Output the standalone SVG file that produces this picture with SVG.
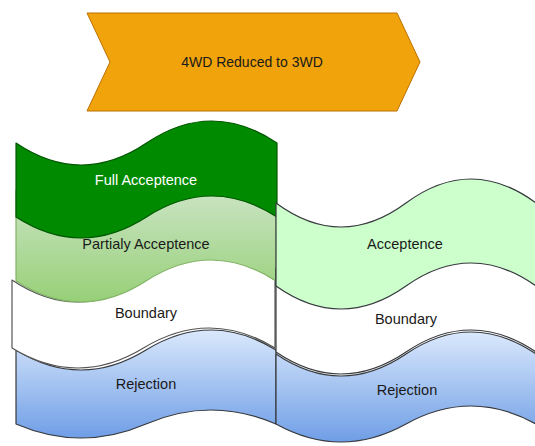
<svg xmlns="http://www.w3.org/2000/svg" width="535" height="446" viewBox="0 0 535 446">
  <defs>
    <linearGradient id="gradPartial" x1="0" y1="0" x2="0" y2="1">
      <stop offset="0" stop-color="#d5e8d4"/>
      <stop offset="1" stop-color="#97d077"/>
    </linearGradient>
    <linearGradient id="gradReject" x1="0" y1="0" x2="0" y2="1">
      <stop offset="0" stop-color="#dae8fc"/>
      <stop offset="1" stop-color="#6f9ee6"/>
    </linearGradient>
  </defs>
  <style>
    .lbl { font-family: "Liberation Sans", Arial, sans-serif; font-size: 14.5px; text-anchor: middle; dominant-baseline: central; fill: #1a1a1a; }
    .lbl-w { fill: #ffffff; }
    .tape { stroke-width: 1.2; stroke-linejoin: round; }
  </style>

  <!-- header chevron -->
  <g id="header">
    <polygon points="87,13 397,13 420,62 397,111 87,111 110,62" fill="#f0a30a" stroke="#bd7000" stroke-width="1"/>
    <text class="lbl" x="252" y="62" style="font-size:14px">4WD Reduced to 3WD</text>
  </g>

  <!-- left column: four bands -->
  <g id="left-rejection">
    <path class="tape" d="M16 350 Q81 390 146 350 Q211 310 276 350 L276 424 Q211 396 146 424 Q81 452 16 424 Z" fill="url(#gradReject)" stroke="#36393d"/>
    <text class="lbl" x="146" y="384">Rejection</text>
  </g>
  <g id="left-boundary">
    <path class="tape" d="M12 280 Q77.75 324 143.5 280 Q209.25 236 275 280 L275 348 Q209.25 308 143.5 348 Q77.75 388 12 348 Z" fill="#ffffff" stroke="#555"/>
    <text class="lbl" x="146" y="313">Boundary</text>
  </g>
  <g id="left-partial">
    <path class="tape" d="M16 190 Q81 234 146 190 Q211 146 276 190 L276 281 Q211 239 146 281 Q81 323 16 281 Z" fill="url(#gradPartial)" stroke="#82b366"/>
    <text class="lbl" x="146" y="244">Partialy Acceptence</text>
  </g>
  <g id="left-full">
    <path class="tape" d="M16 143 Q81.25 187 146.5 143 Q211.75 99 277 143 L277 217 Q211.75 175 146.5 217 Q81.25 259 16 217 Z" fill="#008a00" stroke="#005700"/>
    <text class="lbl lbl-w" x="146" y="180">Full Acceptence</text>
  </g>

  <!-- right column: three bands -->
  <g id="right-boundary">
    <path class="tape" d="M276 268 Q341 312 406 268 Q471 224 536 268 L536 352 Q471 308 406 352 Q341 396 276 352 Z" fill="#ffffff" stroke="#36393d"/>
    <text class="lbl" x="406" y="319">Boundary</text>
  </g>
  <g id="right-rejection">
    <path class="tape" d="M276 354 Q341 398 406 354 Q471 310 536 354 L536 424 Q471 388 406 424 Q341 460 276 424 Z" fill="url(#gradReject)" stroke="#36393d"/>
    <text class="lbl" x="407" y="390">Rejection</text>
  </g>
  <g id="right-acceptence">
    <path class="tape" d="M276 203 Q341 251 406 203 Q471 155 536 203 L536 286 Q471 240 406 286 Q341 332 276 286 Z" fill="#ccffcc" stroke="#36393d"/>
    <text class="lbl" x="405" y="244">Acceptence</text>
  </g>

  <g id="connectors"/>
</svg>
